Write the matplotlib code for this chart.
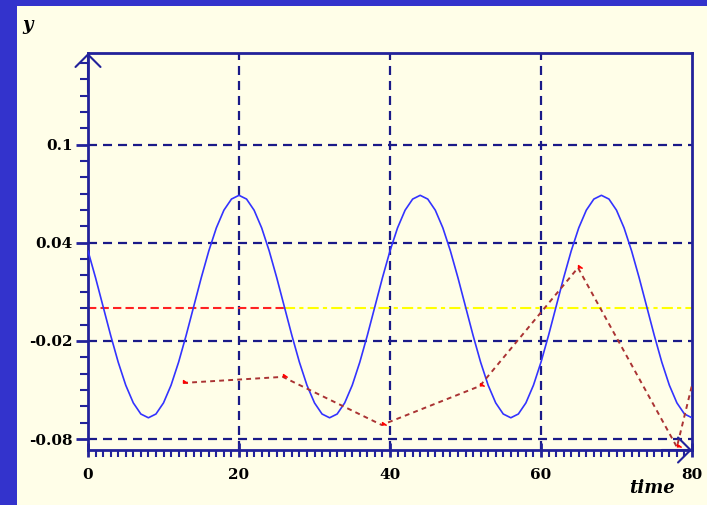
import matplotlib
matplotlib.use("Agg")
import matplotlib.pyplot as plt
from matplotlib.patches import Rectangle
from matplotlib.ticker import MultipleLocator, FixedLocator

plt.rcParams['lines.scale_dashes'] = False

# ---- data ----
time = list(range(0, 81))
y_wave = [0.0350, 0.0186, 0.0010, -0.0166, -0.0330, -0.0471, -0.0579, -0.0647, -0.0670, -0.0647,
          -0.0579, -0.0471, -0.0330, -0.0166, 0.0010, 0.0186, 0.0350, 0.0491, 0.0599, 0.0667,
          0.0690, 0.0667, 0.0599, 0.0491, 0.0350, 0.0186, 0.0010, -0.0166, -0.0330, -0.0471,
          -0.0579, -0.0647, -0.0670, -0.0647, -0.0579, -0.0471, -0.0330, -0.0166, 0.0010, 0.0186,
          0.0350, 0.0491, 0.0599, 0.0667,
          0.0690, 0.0667, 0.0599, 0.0491, 0.0350, 0.0186, 0.0010, -0.0166, -0.0330, -0.0471,
          -0.0579, -0.0647, -0.0670, -0.0647, -0.0579, -0.0471, -0.0330, -0.0166, 0.0010, 0.0186,
          0.0350, 0.0491, 0.0599, 0.0667,
          0.0690, 0.0667, 0.0599, 0.0491, 0.0350, 0.0186, 0.0010, -0.0166, -0.0330, -0.0471,
          -0.0579, -0.0647, -0.0670]

sample_t = [12.6, 25.8, 38.9, 51.9, 64.9, 78.0, 80.0]
sample_y = [-0.0457, -0.0420, -0.0714, -0.0476, 0.0247, -0.0849, -0.0470]

ref_red_t = [0, 26]
ref_red_y = [0.0, 0.0]
ref_yel_t = [26, 80]
ref_yel_y = [0.0, 0.0]

yticks = [0.1, 0.04, -0.02, -0.08]
ytick_labels = ['0.1', '0.04', '-0.02', '-0.08']
xticks = [0, 20, 40, 60, 80]
xtick_labels = ['0', '20', '40', '60', '80']

# ---- styling ----
BORDER = '#3333cc'
CREAM = '#fffee8'
AXC = '#22229a'
GRIDC = '#1a1a88'

fig = plt.figure(figsize=(7.07, 5.05), dpi=100, facecolor=BORDER)
bg = Rectangle((17/707, 0), 1, (505-6)/505, transform=fig.transFigure,
               facecolor=CREAM, edgecolor='none', zorder=-10)
fig.patches.append(bg)

ax = fig.add_axes([88/707, 55/505, (692-88)/707, (452-55)/505])
ax.set_zorder(1)
ax.set_facecolor(CREAM)
ax.set_xlim(0, 80)
ax.set_ylim(-0.0867, 0.156)

for s in ax.spines.values():
    s.set_color(AXC)
    s.set_linewidth(2)

# grid
for xv in [20, 40, 60]:
    ax.axvline(xv, color=GRIDC, lw=1.6, dashes=(6.5, 4.3), zorder=1)
for yv in yticks:
    ax.axhline(yv, color=GRIDC, lw=1.6, dashes=(6.5, 4.3), zorder=1)

# series
ax.plot(time, y_wave, color='#3333ff', lw=1.2, zorder=3)
ax.plot(ref_red_t, ref_red_y, color='#ff2222', lw=1.5, dashes=(6, 3), zorder=2)
ax.plot(ref_yel_t, ref_yel_y, color='#ffff00', lw=1.5, dashes=(8, 3, 3, 3), zorder=2)
ax.plot(sample_t, sample_y, color='#aa3333', lw=1.4, dashes=(3.5, 3), zorder=4)
ax.plot(sample_t[:-1], sample_y[:-1], ls='none', marker=[(0, 0), (0, 1), (1.4, 0)],
        markersize=6, color='#ff0000', zorder=5)

# ticks
ax.xaxis.set_major_locator(FixedLocator(xticks))
ax.set_xticklabels(xtick_labels)
ax.xaxis.set_minor_locator(MultipleLocator(1))
ax.yaxis.set_major_locator(FixedLocator(yticks))
ax.set_yticklabels(ytick_labels)
ax.yaxis.set_minor_locator(MultipleLocator(0.01))
ax.tick_params(axis='x', which='major', direction='inout', length=10, width=2, color=AXC, pad=8)
ax.tick_params(axis='x', which='minor', direction='out', length=5, width=1.5, color=AXC)
ax.tick_params(axis='y', which='major', direction='out', length=9, width=2, color=AXC, pad=2)
ax.tick_params(axis='y', which='minor', direction='out', length=6, width=1.5, color=AXC)
for lab in ax.get_xticklabels() + ax.get_yticklabels():
    lab.set_fontfamily('DejaVu Serif')
    lab.set_fontweight('bold')
    lab.set_fontsize(11)
    lab.set_color('black')

# arrows
ax.annotate('', xy=(0, 1.0), xycoords='axes fraction', xytext=(0, 0.9), textcoords='axes fraction',
            arrowprops=dict(arrowstyle='->,head_length=0.9,head_width=0.9', color=AXC, lw=1.5,
                            shrinkA=0, shrinkB=0), zorder=6, annotation_clip=False)
ax.annotate('', xy=(1.0, 0), xycoords='axes fraction', xytext=(0.95, 0), textcoords='axes fraction',
            arrowprops=dict(arrowstyle='->,head_length=0.9,head_width=0.9', color=AXC, lw=1.5,
                            shrinkA=0, shrinkB=0), zorder=6, annotation_clip=False)

fig.text(28/707, 1 - 25/505, 'y', fontfamily='DejaVu Serif', fontweight='bold', fontstyle='italic',
         fontsize=13, ha='center', va='center')
fig.text(652/707, 1 - 488/505, 'time', fontfamily='DejaVu Serif', fontweight='bold', fontstyle='italic',
         fontsize=13, ha='center', va='center')

fig.savefig('out.png', dpi=100, facecolor=BORDER)
